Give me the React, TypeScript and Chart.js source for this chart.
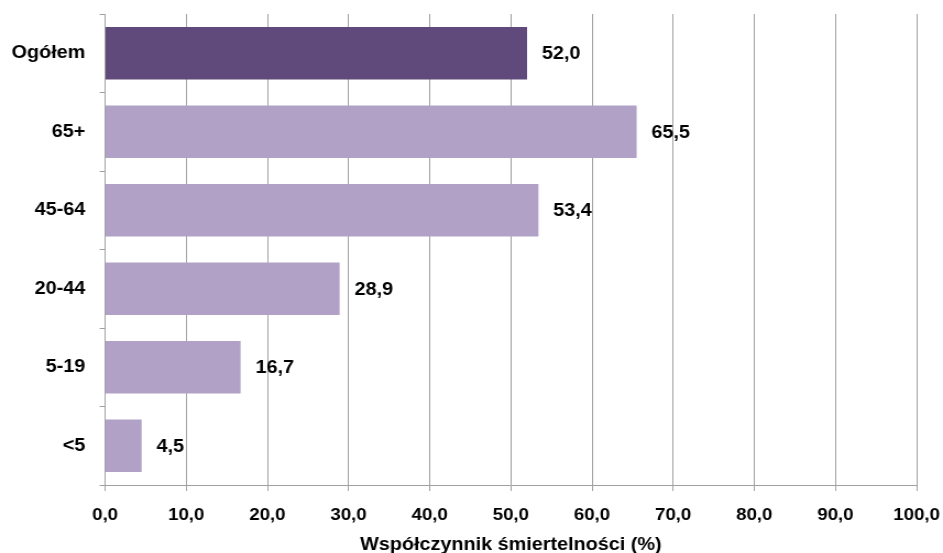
import React, { useEffect, useRef } from "react";
import { Chart, registerables } from "chart.js";

Chart.register(...registerables);

const categories = ["Ogółem", "65+", "45-64", "20-44", "5-19", "<5"];
const values = [52.0, 65.5, 53.4, 28.9, 16.7, 4.5];
const barColors = ["#5F4A7B", "#B2A1C7", "#B2A1C7", "#B2A1C7", "#B2A1C7", "#B2A1C7"];
const xTitle = "Współczynnik śmiertelności (%)";

const W = 943;
const H = 553;
const CW = 857;
const FONT = "'Liberation Sans', Arial, sans-serif";
const GRID = "#A0A0A0";

const fmt = (v: number) => v.toFixed(1).replace(".", ",");

const labelPlugin = {
  id: "barValueLabels",
  afterDatasetsDraw(chart: any) {
    const ctx = chart.ctx;
    const meta = chart.getDatasetMeta(0);
    ctx.save();
    ctx.font = `bold 18px ${FONT}`;
    ctx.fillStyle = "#000";
    ctx.textAlign = "left";
    ctx.textBaseline = "middle";
    meta.data.forEach((el: any, i: number) => {
      ctx.fillText(fmt(values[i]), el.x + 13.5, el.y + 1);
    });
    ctx.restore();
  },
};

export default function App() {
  const ref = useRef<HTMLCanvasElement | null>(null);
  useEffect(() => {
    if (!ref.current) return;
    const chart = new Chart(ref.current, {
      type: "bar",
      data: {
        labels: categories,
        datasets: [
          {
            data: values,
            backgroundColor: barColors,
            borderWidth: 0,
            barPercentage: 0.67,
            categoryPercentage: 1,
          },
        ],
      },
      options: {
        indexAxis: "y",
        responsive: false,
        animation: false,
        devicePixelRatio: 1,
        layout: { padding: { top: 14, right: 24, left: 0, bottom: 0 } },
        plugins: { legend: { display: false }, tooltip: { enabled: false } },
        scales: {
          x: {
            min: 0,
            max: 100,
            ticks: {
              stepSize: 10,
              color: "#000",
              font: { family: FONT, size: 17, weight: "bold" },
              padding: 14,
              callback: (v: any) => fmt(Number(v)),
              maxRotation: 0,
            },
            grid: { color: GRID, tickLength: 6, lineWidth: 1 },
            border: { color: GRID },
            title: {
              display: true,
              text: xTitle,
              color: "#000",
              font: { family: FONT, size: 18, weight: "bold" },
              padding: { top: 0, bottom: -3 },
            },
            afterFit: (s: any) => {
              s.height = 68;
              s.paddingLeft = 0;
              s.paddingRight = 0;
            },
          },
          y: {
            ticks: {
              color: "#000",
              font: { family: FONT, size: 18, weight: "bold" },
              padding: 13,
            },
            grid: { display: true, drawOnChartArea: false, color: GRID, tickLength: 5 },
            border: { color: GRID },
            afterFit: (s: any) => {
              s.width = 95.5;
              s.paddingTop = 0;
              s.paddingBottom = 0;
            },
          },
        },
      },
      plugins: [labelPlugin],
    } as any);
    return () => chart.destroy();
  }, []);
  return (
    <div style={{ position: "fixed", left: 0, top: 0, width: W, height: H, background: "#fff" }}>
      <canvas ref={ref} width={CW} height={H} style={{ width: W + "px", height: H + "px", display: "block" }} />
    </div>
  );
}
